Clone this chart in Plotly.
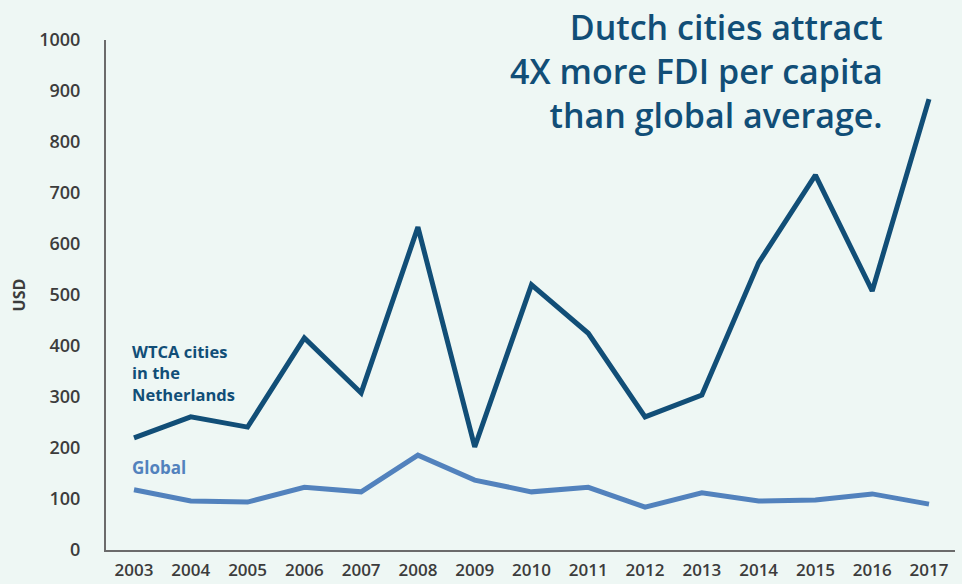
import plotly.graph_objects as go

years = list(range(2003, 2018))
wtca = [220, 261, 241, 416, 308, 633, 202, 520, 425, 261, 304, 563, 735, 508, 884]
global_vals = [118, 96, 94, 123, 114, 186, 137, 114, 123, 84, 112, 96, 98, 110, 90]
y_ticks = [0, 100, 200, 300, 400, 500, 600, 700, 800, 900, 1000]

DARK = "#114e77"
LIGHT = "#5282bd"
BG = "#eef7f4"
TXT = "#3c3c3c"
FONT = "Open Sans"

fig = go.Figure()
fig.add_trace(go.Scatter(x=years, y=wtca, mode="lines", line=dict(color=DARK, width=5),
                         name="WTCA cities in the Netherlands", hoverinfo="x+y"))
fig.add_trace(go.Scatter(x=years, y=global_vals, mode="lines", line=dict(color=LIGHT, width=5),
                         name="Global", hoverinfo="x+y"))

fig.update_layout(
    width=962, height=584,
    margin=dict(l=106, r=7, t=40, b=34),
    paper_bgcolor=BG, plot_bgcolor=BG,
    showlegend=False,
    font=dict(family=FONT, color=TXT),
)
fig.update_xaxes(
    range=[2002.507, 2017.458], automargin=False,
    tickmode="array", tickvals=years, ticktext=[str(y) for y in years],
    showgrid=False, zeroline=False,
    showline=True, linecolor="#6b6b6b", linewidth=2,
    ticks="", ticklabelstandoff=4,
    tickfont=dict(family=FONT, size=17, color=TXT, weight=600),
)
fig.update_yaxes(
    range=[0, 1000], automargin=False,
    tickmode="array", tickvals=y_ticks, ticktext=[str(v) for v in y_ticks],
    showgrid=False, zeroline=False,
    showline=True, linecolor="#6b6b6b", linewidth=2,
    ticks="", ticklabelstandoff=20,
    tickfont=dict(family=FONT, size=18, color=TXT, weight=600),
    title=dict(text="USD", font=dict(family=FONT, size=16, color=TXT, weight=700), standoff=10),
)

fig.add_annotation(
    xref="paper", yref="paper", x=0.9175, y=1.075, xanchor="right", yanchor="top",
    text="Dutch cities attract<br>4X more FDI per capita<br>than global average.",
    align="right", showarrow=False,
    font=dict(family=FONT, size=34, color=DARK, weight=600),
)
fig.add_annotation(
    xref="x", yref="y", x=2002.93, y=347, xanchor="left", yanchor="middle",
    text="WTCA cities<br>in the<br>Netherlands", align="left", showarrow=False,
    font=dict(family=FONT, size=16.5, color=DARK, weight=700),
)
fig.add_annotation(
    xref="x", yref="y", x=2002.93, y=161, xanchor="left", yanchor="middle",
    text="Global", align="left", showarrow=False,
    font=dict(family=FONT, size=17, color=LIGHT, weight=700),
)

fig.write_html("out.html")
